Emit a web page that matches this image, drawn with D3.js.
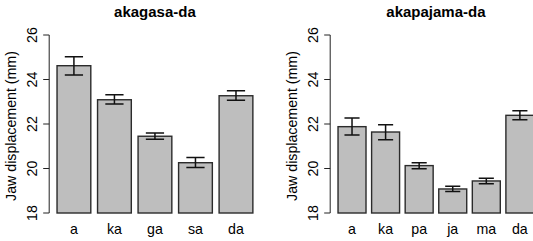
<!DOCTYPE html>
<html lang="en">
<head>
    <meta charset="UTF-8">
    <title>Jaw displacement</title>
    <script src="https://d3js.org/d3.v7.min.js"></script>
    <style>
        body { margin: 0; background: #fff; }
        svg { display: block; }
        text { font-family: "Liberation Sans", Arial, Helvetica, sans-serif; fill: #000; }
    </style>
</head>
<body>
    <svg width="533" height="241"></svg>

    <script>
        // panel 1
        var titleA = "akagasa-da",
            catsA = ["a", "ka", "ga", "sa", "da"],
            meanA = [24.62, 23.09, 21.45, 20.26, 23.27],
            upA   = [25.02, 23.32, 21.60, 20.49, 23.50],
            loA   = [24.20, 22.90, 21.31, 20.05, 23.07];

        // panel 2
        var titleB = "akapajama-da",
            catsB = ["a", "ka", "pa", "ja", "ma", "da"],
            meanB = [21.88, 21.64, 20.13, 19.08, 19.44, 22.39],
            upB   = [22.27, 21.97, 20.26, 19.20, 19.56, 22.60],
            loB   = [21.51, 21.29, 19.99, 18.97, 19.32, 22.19];

        var yTicks = [18, 20, 22, 24, 26],
            yLabel = "Jaw displacement (mm)";

        var svg = d3.select("svg");

        // every panel is 281px wide, the second one runs off the right edge
        var panelW = 281,
            plotL = 49.2,
            plotW = 211.5;

        var y = d3.scaleLinear().domain([18, 26]).range([213, 35]);

        function panel(idx, title, cats, mean, up, lo) {
            var g = svg.append("g").attr("transform", "translate(" + (idx * panelW) + ",0)");

            // barplot style coordinates: width 1, space 0.2, 4% padding
            var n = cats.length,
                lo0 = 0.2, hi0 = n * 1.2,
                pad = (hi0 - lo0) * 0.04;
            var x = d3.scaleLinear().domain([lo0 - pad, hi0 + pad]).range([plotL, plotL + plotW]);
            var unit = x(1) - x(0);

            var bars = g.selectAll("g.bar")
                .data(cats)
                .enter().append("g")
                .attr("class", "bar");

            bars.append("rect")
                .attr("x", function(d, i) { return x(0.2 + i * 1.2); })
                .attr("width", unit)
                .attr("y", function(d, i) { return y(mean[i]); })
                .attr("height", function(d, i) { return y(18) - y(mean[i]); })
                .attr("fill", "#bebebe")
                .attr("stroke", "#2b2b2b")
                .attr("stroke-width", 1.4);

            // error bars
            var cap = unit * 0.27;
            bars.append("path")
                .attr("d", function(d, i) {
                    var cx = x(0.7 + i * 1.2), t = y(up[i]), b = y(lo[i]);
                    return "M" + (cx - cap) + "," + t + "H" + (cx + cap) +
                           "M" + cx + "," + t + "V" + b +
                           "M" + (cx - cap) + "," + b + "H" + (cx + cap);
                })
                .attr("fill", "none")
                .attr("stroke", "#111")
                .attr("stroke-width", 1.5);

            bars.append("text")
                .attr("x", function(d, i) { return x(0.7 + i * 1.2); })
                .attr("y", 234)
                .attr("text-anchor", "middle")
                .style("font-size", "14.2px")
                .text(function(d) { return d; });

            // y axis
            var ax = g.append("g").attr("transform", "translate(" + x.range()[0] + ",0)");
            ax.append("line")
                .attr("y1", y(18)).attr("y2", y(26))
                .attr("stroke", "#222").attr("stroke-width", 1);
            ax.selectAll("line.tick")
                .data(yTicks)
                .enter().append("line")
                .attr("class", "tick")
                .attr("x1", -6).attr("x2", 0)
                .attr("y1", function(d) { return y(d); })
                .attr("y2", function(d) { return y(d); })
                .attr("stroke", "#222");
            ax.selectAll("text")
                .data(yTicks)
                .enter().append("text")
                .attr("transform", function(d) { return "translate(-12," + y(d) + ") rotate(-90)"; })
                .attr("text-anchor", "middle")
                .style("font-size", "14.2px")
                .text(function(d) { return d; });

            g.append("text")
                .attr("transform", "translate(15.5,126) rotate(-90)")
                .attr("text-anchor", "middle")
                .style("font-size", "14.2px")
                .text(yLabel);

            g.append("text")
                .attr("x", plotL + plotW / 2)
                .attr("y", 17)
                .attr("text-anchor", "middle")
                .style("font-size", "15px")
                .style("font-weight", "bold")
                .text(title);
        }

        panel(0, titleA, catsA, meanA, upA, loA);
        panel(1, titleB, catsB, meanB, upB, loB);
    </script>
</body>
</html>
